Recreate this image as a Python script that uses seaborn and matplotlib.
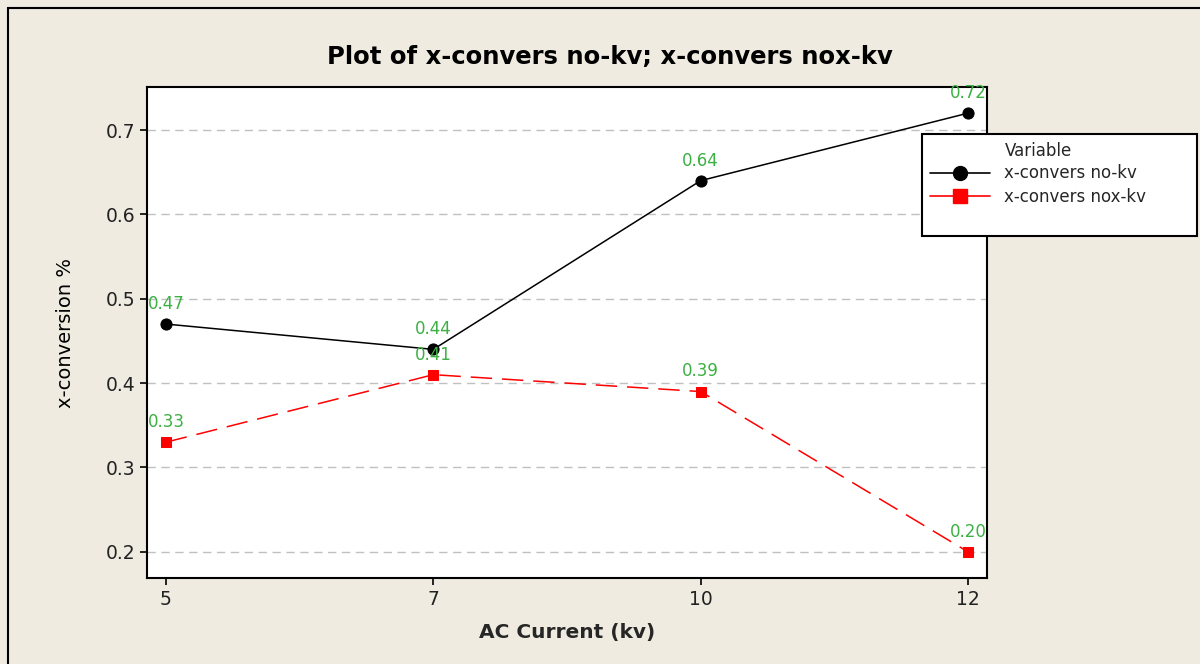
import pandas as pd
import matplotlib.pyplot as plt
import matplotlib.patches as mpatches
from matplotlib.lines import Line2D
import seaborn as sns

# --- DATA ---
currents = ["5", "7", "10", "12"]
no_kv = [0.47, 0.44, 0.64, 0.72]
nox_kv = [0.33, 0.41, 0.39, 0.20]
series_names = ["x-convers no-kv", "x-convers nox-kv"]

sns.set_theme(style="white")
plt.rcParams['font.family'] = ['DejaVu Sans']

bg = "#efebe1"
green = "#3cb043"

df = pd.DataFrame({"pos": range(len(currents)), "no": no_kv, "nox": nox_kv})

fig = plt.figure(figsize=(12, 6.64), dpi=100, facecolor=bg)
ax = fig.add_axes([147 / 1200, 1 - 578 / 664, 840 / 1200, 491 / 664])
ax.set_facecolor("white")

sns.lineplot(data=df, x="pos", y="no", ax=ax, color="black", marker="o",
             markersize=8, markeredgecolor="black", linewidth=1.1,
             legend=False)
sns.lineplot(data=df, x="pos", y="nox", ax=ax, color="red", marker="s",
             markersize=6.5, markeredgecolor="red", linewidth=1.1,
             legend=False)
ax.lines[1].set_linestyle((0, (14, 6.5)))

# value labels
for i in range(len(currents)):
    ax.annotate(f"{no_kv[i]:.2f}", (i, no_kv[i]), xytext=(0, 8),
                textcoords="offset points", ha="center", va="bottom",
                color=green, fontsize=12)
    ax.annotate(f"{nox_kv[i]:.2f}", (i, nox_kv[i]), xytext=(0, 8),
                textcoords="offset points", ha="center", va="bottom",
                color=green, fontsize=12)

ax.set_xlim(-0.071, 3.071)
ax.set_ylim(0.169, 0.751)
ax.set_xticks(range(len(currents)))
ax.set_xticklabels(currents)
ax.set_yticks([0.2, 0.3, 0.4, 0.5, 0.6, 0.7])
ax.yaxis.grid(True, linestyle=(0, (6, 4)), color="#c0c0c0", linewidth=1)
ax.set_axisbelow(True)
ax.tick_params(axis="both", direction="out", length=5, width=1.2,
               color="black", labelsize=13.5, labelcolor="#222222",
               left=True, bottom=True)
for s in ax.spines.values():
    s.set_color("black")
    s.set_linewidth(1.5)

ax.set_xlabel("AC Current (kv)", fontsize=14.5, fontweight="bold", labelpad=10)
ax.set_ylabel("x-conversion %", fontsize=14, labelpad=22, color="black")

fig.text(0.508, 1 - 57 / 664, "Plot of x-convers no-kv; x-convers nox-kv",
         ha="center", va="center", fontsize=17.5, fontweight="bold",
         color="black")

# legend: "Variable" header aligned with labels, blank row for bottom space
blank = Line2D([], [], linestyle="none")
h1 = Line2D([], [], color="black", marker="o", markersize=10, linewidth=1.2)
h2 = Line2D([], [], color="red", marker="s", markersize=10, linewidth=1.2)
leg = fig.legend([blank, h1, h2, blank], ["Variable"] + series_names + [" "],
                 loc="upper left",
                 bbox_to_anchor=(922 / 1200, 1 - 236 / 664, 275 / 1200, 102 / 664),
                 mode="expand",
                 frameon=True, fancybox=False, edgecolor="black", fontsize=12,
                 borderpad=0.45, handlelength=3.6, handletextpad=0.9,
                 labelspacing=0.3, borderaxespad=0)
leg.get_frame().set_linewidth(1.5)
leg.get_frame().set_facecolor("white")
leg.get_frame().set_alpha(1)

# outer frame
fig.patches.append(mpatches.Rectangle((8 / 1200, -0.1), 1.2, 1 - 8 / 664 + 0.1,
                                      transform=fig.transFigure, fill=False,
                                      edgecolor="black", linewidth=1.5))

fig.savefig("out.png", dpi=100, facecolor=bg)
